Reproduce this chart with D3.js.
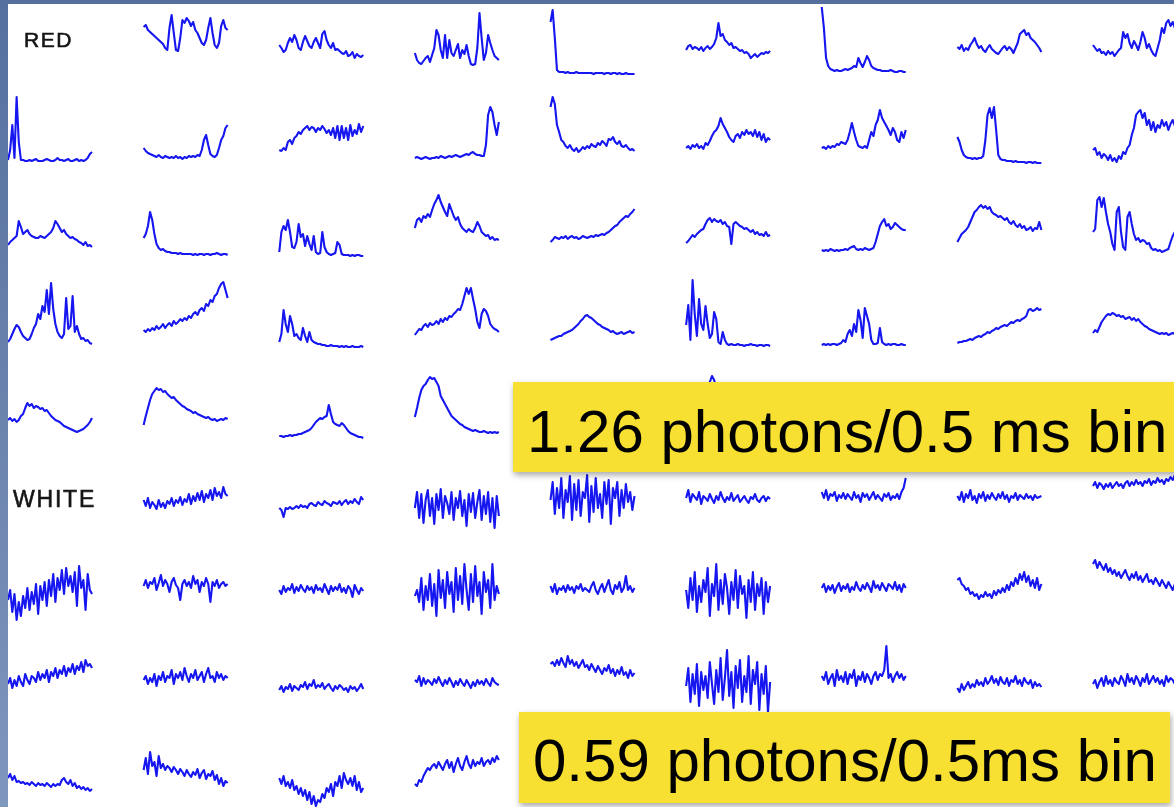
<!DOCTYPE html>
<html>
<head>
<meta charset="utf-8">
<script src="https://cdn.jsdelivr.net/npm/d3@7/dist/d3.min.js"></script>
<style>
  html, body { margin: 0; padding: 0; background: #fff; overflow: hidden; }
  #chart { width: 1174px; height: 807px; }
</style>
</head>
<body>
<div id="chart"></div>
<script>
// intensity traces, one per cell (0..76 = relative counts), null = label or hidden cell
let red0 = [
    null,
    [51,53,48,46,44,42,40,38,36,34,30,28,50,63,45,28,27,40,58,55,60,57,52,56,48,45,40,35,33,38,50,60,45,33,30,35,52,58,50,48],
    [33,30,26,28,35,40,36,43,38,30,28,36,42,37,32,30,36,40,35,30,44,47,38,33,30,35,28,29,27,25,24,27,22,23,26,20,24,22,21,23],
    [25,18,15,14,17,20,22,16,23,30,48,43,28,20,43,20,38,25,22,28,34,20,28,24,33,22,14,13,14,30,65,40,18,25,43,35,28,22,20,18],
    [56,68,40,8,6,6,6,5,6,5,5,5,6,5,5,5,5,5,5,5,4,5,5,5,5,4,5,5,4,5,5,4,5,4,4,5,4,4,4,4],
    [28,32,33,29,31,30,28,31,27,30,32,29,31,34,40,55,42,44,38,36,33,35,30,31,29,27,28,25,26,24,20,22,24,21,23,25,24,26,25,27],
    [71,50,20,12,9,8,7,8,7,7,8,9,8,9,10,12,11,20,15,11,16,22,18,12,10,9,8,8,7,7,7,7,8,7,6,6,7,7,6,6],
    [31,29,33,27,30,28,33,36,40,34,30,32,28,26,30,33,29,27,25,24,27,30,32,28,31,29,25,30,35,44,46,48,43,45,40,38,36,33,30,26],
    [33,30,27,29,25,26,23,27,24,26,22,25,28,30,46,40,44,35,30,37,33,28,36,46,40,30,34,28,24,22,30,38,50,45,55,58,52,56,50,48]
];
let red1 = [
    [10,20,45,12,73,28,10,10,9,9,10,9,10,11,9,9,9,10,11,10,9,9,10,12,10,10,9,10,11,9,9,10,11,9,10,9,10,12,16,18],
    [22,19,17,16,15,14,13,15,13,12,14,13,12,13,12,14,12,13,11,13,12,14,13,14,13,15,14,20,30,35,25,16,14,13,15,22,30,34,42,45],
    [20,19,22,20,28,30,26,32,34,38,36,40,42,44,40,43,42,38,42,40,44,41,37,40,35,42,32,44,30,44,32,42,30,45,34,40,36,46,38,44],
    [12,13,12,11,12,13,12,11,12,12,13,12,14,13,12,13,14,13,14,15,14,13,14,15,16,15,17,18,16,15,15,14,14,25,55,63,58,45,35,48],
    [63,73,66,45,38,30,28,24,22,25,21,19,22,18,20,23,21,24,22,26,24,23,27,25,29,27,24,31,30,33,28,26,29,24,23,25,22,20,21,19],
    [22,24,21,25,23,26,22,24,21,27,25,29,34,38,40,44,52,46,42,38,33,30,28,34,36,32,38,35,40,36,38,34,40,33,38,30,36,28,32,30],
    [22,23,21,24,22,24,23,26,25,28,27,26,30,38,47,38,30,24,23,22,24,22,30,38,34,45,50,60,52,48,44,40,35,42,38,30,28,38,32,40],
    [33,28,20,15,13,12,12,11,12,11,12,12,14,30,55,62,52,63,40,15,11,10,10,9,9,9,8,9,8,8,8,8,7,8,8,7,8,7,7,7],
    [20,22,15,18,12,16,14,10,15,9,12,8,14,11,18,16,22,25,35,42,55,58,60,52,57,45,50,40,48,38,45,42,50,44,48,40,46,50,44,48]
];
let red2 = [
    [17,20,22,24,26,41,35,28,30,32,28,26,25,24,24,26,25,24,26,28,30,34,41,38,34,30,32,28,26,24,25,23,22,20,19,17,20,16,17,15],
    [24,28,36,50,42,28,18,14,12,13,11,10,10,9,9,9,8,9,8,8,8,8,8,7,8,7,8,8,7,8,8,7,8,8,9,8,7,8,8,7],
    [10,30,36,32,42,30,15,14,20,38,25,28,16,26,18,12,26,10,8,9,30,15,10,8,7,8,9,20,17,8,7,7,7,6,7,6,7,7,6,6],
    [34,42,44,40,46,44,48,45,52,58,62,67,60,55,50,46,58,52,46,42,45,38,34,32,30,33,31,30,34,40,36,30,28,26,27,23,25,22,23,22],
    [20,22,25,24,23,25,24,26,23,25,26,24,25,23,24,26,25,24,25,26,25,27,26,27,28,27,29,30,32,34,36,37,40,42,44,46,45,48,50,53],
    [19,21,24,27,25,28,30,32,33,38,42,44,40,43,41,40,42,38,40,36,35,18,38,40,38,36,35,33,34,32,30,32,28,30,27,28,26,30,26,27],
    [12,11,12,11,13,12,11,12,11,12,12,13,12,14,15,16,13,12,13,12,14,13,12,13,14,20,28,36,40,43,36,38,33,35,39,37,35,33,32,32],
    [20,24,28,30,32,35,40,45,50,52,55,57,54,56,53,55,50,48,47,45,46,44,42,44,40,38,41,37,35,38,34,36,32,33,35,31,34,33,40,32],
    [30,33,62,65,55,64,50,38,30,18,12,50,55,30,15,12,45,50,38,28,22,24,20,22,21,18,19,14,12,13,11,12,10,11,12,13,20,26,30,28]
];
let red3 = [
    [12,15,20,25,29,27,22,18,16,14,15,20,26,30,40,35,48,42,64,40,71,45,30,22,18,16,20,56,25,28,58,22,28,20,15,16,13,14,11,10],
    [24,22,25,23,26,24,28,25,27,30,26,29,31,28,33,30,32,35,33,36,34,38,36,40,42,39,44,46,43,50,48,54,52,58,60,66,70,72,64,56],
    [12,20,44,30,22,38,30,18,20,16,14,26,18,12,22,14,12,11,10,10,9,9,8,8,9,8,8,8,7,8,7,8,7,7,8,7,7,7,8,7],
    [19,22,25,24,28,30,27,31,29,30,33,30,35,32,36,34,38,37,40,42,45,44,50,58,66,60,66,55,45,32,26,40,45,43,38,30,27,25,24,22],
    [14,15,16,17,18,18,20,21,22,23,24,26,28,30,33,35,38,39,37,36,34,32,30,29,27,26,25,24,22,23,21,20,21,22,20,21,22,23,21,22],
    [29,49,14,74,40,18,55,30,24,48,30,16,20,42,35,12,10,22,14,10,9,10,9,9,10,9,9,8,9,9,10,9,9,8,9,9,8,9,9,8],
    [9,10,9,10,9,10,10,9,10,11,14,12,20,24,18,30,22,44,34,16,46,38,30,14,10,10,11,26,12,10,9,10,9,10,10,9,9,10,9,9],
    [11,12,12,13,13,14,15,14,16,17,18,17,19,20,22,21,23,24,26,25,27,28,29,28,30,32,31,33,34,33,35,36,38,44,45,43,44,46,44,45],
    [21,24,22,27,32,35,38,40,39,41,40,38,39,37,38,35,36,37,34,36,33,35,32,30,28,27,25,24,23,22,21,20,21,20,21,19,20,21,20,20]
];
let red4 = [
    [26,28,25,27,24,26,30,32,38,43,40,42,38,40,39,37,38,35,36,33,30,28,26,25,24,22,20,19,18,17,16,15,14,15,16,17,19,21,24,28],
    [21,30,38,46,52,55,58,56,57,54,55,52,50,48,49,46,44,42,40,39,37,36,35,33,34,32,31,30,29,28,29,27,26,27,25,26,27,26,28,27],
    [10,10,9,10,10,11,10,11,11,12,12,13,14,15,16,18,21,24,26,28,27,29,30,41,32,24,22,21,20,23,21,18,15,13,12,11,10,9,9,8],
    [29,38,48,56,60,62,66,69,67,68,64,60,50,46,42,38,34,30,28,26,24,22,21,19,18,17,16,15,16,15,14,14,15,14,13,14,13,14,13,14],
    null,
    [30,32,35,38,40,42,45,48,50,55,60,64,70,66,58,52,48,45,42,40,38,36,35,33,32,30,31,29,28,27,28,26,25,26,24,25,23,24,22,23],
    null, null, null
];
let white0 = [
    null,
    [38,32,40,30,36,33,29,38,31,35,30,37,34,40,32,38,35,41,33,39,36,44,34,42,37,45,38,47,36,44,40,48,38,50,42,46,40,51,44,42],
    [30,28,21,30,29,31,29,30,32,30,33,31,32,30,34,35,33,32,36,34,33,37,35,34,32,36,35,34,37,33,36,38,34,37,35,39,36,34,41,38],
    [30,46,20,44,15,38,48,22,40,14,44,28,49,20,42,35,24,46,18,40,30,47,22,38,12,44,26,45,20,36,48,18,42,24,46,16,40,10,42,22],
    [38,56,24,50,30,60,20,48,36,62,18,54,28,58,22,46,40,63,16,52,26,60,30,44,20,56,34,58,14,50,40,56,22,48,30,54,36,46,28,42],
    [40,48,36,44,41,38,46,34,42,40,37,44,39,35,42,38,46,40,36,41,38,45,37,40,43,36,39,42,38,35,41,39,44,38,36,40,42,37,41,39],
    [46,40,48,38,44,42,46,37,43,40,45,39,44,41,38,46,40,43,36,45,41,44,38,42,46,39,43,40,37,44,41,45,38,42,40,44,39,46,50,60],
    [42,38,46,36,44,40,48,38,42,35,44,40,46,37,43,39,45,41,38,44,40,46,39,43,36,42,40,45,38,43,41,39,44,40,42,38,43,40,41,42],
    [52,56,50,55,53,49,54,51,55,50,53,56,52,54,50,55,57,52,56,53,58,54,56,52,57,55,59,53,57,55,60,56,58,54,59,57,61,58,63,60]
];
let white1 = [
    [30,40,18,36,10,28,14,34,22,42,20,38,26,46,16,44,30,48,24,50,34,56,28,52,40,60,36,62,44,54,38,58,24,64,42,50,20,56,40,36],
    [44,50,42,48,46,52,40,47,55,44,50,46,38,48,52,45,42,30,46,50,44,48,42,54,46,50,38,48,44,52,46,28,48,44,50,42,46,48,44,46],
    [40,36,44,38,42,40,46,37,43,39,45,41,38,44,40,43,37,45,40,42,38,46,41,36,44,39,43,40,46,38,42,37,44,41,33,45,40,36,42,39],
    [34,40,28,52,20,44,30,56,24,46,14,60,32,50,22,58,36,48,18,62,30,54,26,66,40,20,56,28,64,34,48,16,58,38,50,22,66,30,44,36],
    [44,38,46,36,42,40,44,38,45,40,43,37,44,41,46,39,42,40,38,44,48,40,36,42,46,38,44,50,40,36,45,41,48,38,42,54,40,44,38,42],
    [40,22,52,30,58,18,44,28,50,38,62,14,46,34,66,20,50,26,56,42,16,48,30,60,22,54,36,44,12,50,28,58,20,46,34,52,16,48,28,44],
    [42,46,38,44,40,45,37,43,47,39,44,41,46,38,43,40,48,42,39,45,41,47,43,38,49,42,45,40,47,43,39,46,44,41,48,40,45,38,46,42],
    [50,52,46,44,40,42,36,38,34,36,31,35,33,38,34,36,32,39,35,40,37,42,38,45,40,48,44,52,46,56,50,58,48,54,44,50,42,52,40,46],
    [66,70,62,68,64,60,66,58,62,56,60,54,58,52,56,60,54,50,56,52,58,50,54,48,52,56,48,50,46,52,48,44,50,46,42,48,44,40,46,42]
];
let white2 = [
    [38,44,34,42,36,46,40,36,48,42,38,46,44,40,50,42,48,44,52,40,50,46,54,44,52,48,56,46,54,50,58,48,56,52,60,50,62,56,58,54],
    [42,46,38,44,40,48,36,46,42,50,40,46,44,52,38,48,44,50,42,54,46,40,48,44,52,42,46,50,40,48,54,44,46,40,50,44,48,42,46,44],
    [32,36,30,35,33,38,31,36,34,32,37,35,40,33,38,36,42,34,37,35,39,33,36,38,34,31,36,33,37,35,32,34,30,36,33,35,31,34,38,33],
    [42,40,46,36,44,38,42,40,37,43,39,45,40,36,42,38,44,40,35,41,37,43,39,36,42,38,34,40,36,42,38,41,37,43,39,36,44,40,38,37],
    [58,60,56,62,57,64,59,55,66,58,62,56,60,54,58,62,55,57,52,58,54,50,56,52,48,54,51,57,49,53,46,52,48,55,47,50,44,52,46,49],
    [36,54,20,48,28,58,16,50,32,46,24,60,38,18,52,30,64,22,44,72,26,50,14,56,34,62,20,46,30,66,18,52,38,60,12,48,28,56,10,40],
    [46,42,50,38,44,48,36,52,42,46,40,50,38,48,44,52,36,46,42,50,40,48,44,38,46,50,42,48,46,52,76,44,48,40,46,50,44,48,42,46],
    [34,30,38,32,36,40,34,38,35,42,37,40,36,44,38,41,46,39,43,37,45,40,38,44,36,42,40,46,38,42,36,44,40,38,42,34,40,36,38,35],
    [38,42,34,40,44,36,46,38,42,36,44,40,38,46,42,36,48,40,44,38,46,42,36,44,40,48,38,42,46,40,44,38,42,36,46,40,44,42,38,44]
];
let white3 = [
    [36,40,34,38,32,33,31,32,30,31,29,32,30,28,31,29,30,28,31,29,27,30,28,30,29,34,36,32,30,34,28,31,26,28,25,27,24,26,23,25],
    [44,56,40,62,48,52,38,58,46,50,44,48,46,42,47,44,40,45,42,38,44,40,37,42,39,45,36,41,44,35,40,38,43,34,39,30,36,28,33,31],
    [36,30,38,28,32,26,34,24,28,20,26,18,24,14,22,10,18,8,14,12,20,16,26,22,30,18,32,28,38,26,41,34,30,36,28,38,24,32,22,26],
    [30,28,34,32,38,42,46,44,48,50,46,52,48,44,50,54,46,52,42,50,56,48,44,52,58,50,46,54,48,52,50,56,48,52,54,50,56,52,58,54],
    null, null, null, null, null
];

let groupLabels = ["RED", "WHITE"];
let groupRows = [0, 5];
let binLabels = ["1.26 photons/0.5 ms bin", "0.59 photons/0.5ms bin"];

let rows = [red0, red1, red2, red3, red4, white0, white1, white2, white3];

let width = 1174, height = 807;
let cellWidth = 84, cellHeight = 76;
let traceColor = "#1414f0";

let colX = d3.scaleLinear().domain([0, 8]).range([8, 1093]);
let rowBase = d3.scaleLinear().domain([0, 8]).range([78, 814]);
let yVal = d3.scaleLinear().domain([0, 76]).range([0, -cellHeight]);

let svg = d3.select("#chart").append("svg")
    .attr("width", width)
    .attr("height", height);

let defs = svg.append("defs");
let grad = defs.append("linearGradient")
    .attr("id", "edge")
    .attr("x1", 0).attr("y1", 0).attr("x2", 0).attr("y2", 1);
grad.append("stop").attr("offset", "0%").attr("stop-color", "#55709e");
grad.append("stop").attr("offset", "100%").attr("stop-color", "#7f96bd");

let shadow = defs.append("filter")
    .attr("id", "shadow")
    .attr("x", "-5%").attr("y", "-20%").attr("width", "115%").attr("height", "150%");
shadow.append("feDropShadow")
    .attr("dx", 1).attr("dy", 3)
    .attr("stdDeviation", 3)
    .attr("flood-color", "#000")
    .attr("flood-opacity", 0.35);

let soft = defs.append("filter").attr("id", "soft");
soft.append("feGaussianBlur").attr("stdDeviation", 0.45);

svg.append("rect")
    .attr("width", width).attr("height", height)
    .attr("fill", "#fff");

let cells = [];
rows.forEach((row, r) => {
    row.forEach((vals, c) => {
        if (vals) cells.push({ r, c, vals });
    });
});

let line = d3.line()
    .x((d, i, arr) => d3.scaleLinear().domain([0, arr.length - 1]).range([0, cellWidth])(i))
    .y(d => yVal(d))
    .curve(d3.curveLinear);

svg.append("g")
    .attr("filter", "url(#soft)")
    .selectAll("path.trace")
    .data(cells)
    .enter()
    .append("path")
    .attr("class", "trace")
    .attr("transform", d => `translate(${colX(d.c)},${rowBase(d.r)})`)
    .attr("d", d => line(d.vals))
    .attr("fill", "none")
    .attr("stroke", traceColor)
    .attr("stroke-width", 2.1)
    .attr("stroke-linejoin", "round");

svg.append("g")
    .selectAll("text.group")
    .data(groupLabels)
    .enter()
    .append("text")
    .attr("class", "group")
    .attr("x", (d, i) => i === 0 ? 24 : 13)
    .attr("y", (d, i) => rowBase(groupRows[i]) - 31)
    .attr("font-family", "'Liberation Sans', Arial, sans-serif")
    .attr("font-size", (d, i) => i === 0 ? 21 : 23)
    .attr("letter-spacing", (d, i) => i === 0 ? 1.5 : 1.8)
    .attr("fill", "#151515")
    .attr("stroke", "#151515")
    .attr("stroke-width", 0.6)
    .text(d => d);

// yellow callouts
let boxes = [
    { x: 513, y: 382, w: 665, h: 90, tx: 527, ty: 452 },
    { x: 519, y: 712, w: 651, h: 91, tx: 533, ty: 781 }
];

let callouts = svg.append("g")
    .selectAll("g.callout")
    .data(binLabels)
    .enter()
    .append("g")
    .attr("class", "callout");

callouts.append("rect")
    .attr("x", (d, i) => boxes[i].x)
    .attr("y", (d, i) => boxes[i].y)
    .attr("width", (d, i) => boxes[i].w)
    .attr("height", (d, i) => boxes[i].h)
    .attr("fill", "#f8e033")
    .attr("filter", "url(#shadow)");

callouts.append("text")
    .attr("x", (d, i) => boxes[i].tx)
    .attr("y", (d, i) => boxes[i].ty)
    .attr("font-family", "'Liberation Sans', Arial, sans-serif")
    .attr("font-size", 60)
    .attr("fill", "#000")
    .text(d => d);

// slide frame
svg.append("rect")
    .attr("x", 0).attr("y", 0)
    .attr("width", 8).attr("height", height)
    .attr("fill", "url(#edge)");
svg.append("rect")
    .attr("x", 0).attr("y", 0)
    .attr("width", width).attr("height", 4)
    .attr("fill", "#55709e");
</script>
</body>
</html>
